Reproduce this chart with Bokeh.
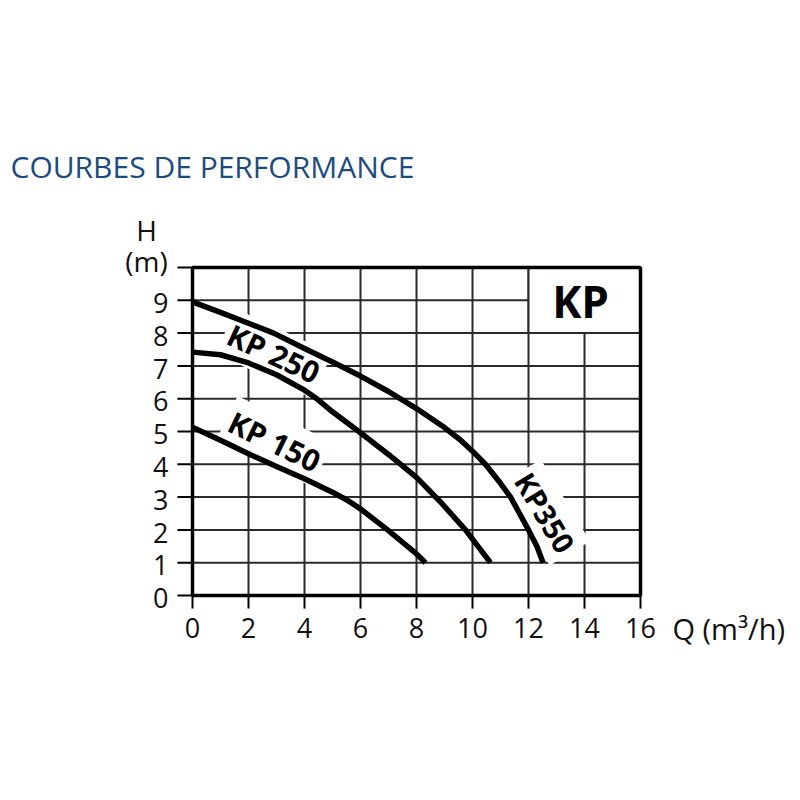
from bokeh.plotting import figure
from bokeh.models import Range1d, Label
from bokeh.core.properties import value
from bokeh.embed import file_html
from bokeh.resources import INLINE

# data (Q in m3/h, H in m)
q_150 = [0, 1, 2, 3, 4, 5, 5.5, 6, 7, 8, 8.32]
h_150 = [5.13, 4.73, 4.32, 3.93, 3.56, 3.15, 2.92, 2.64, 1.98, 1.27, 1.0]

q_250 = [0, 1, 2, 3, 4, 4.39, 5, 5.94, 7, 8, 8.86, 9.75, 10, 10.64]
h_250 = [7.42, 7.34, 7.09, 6.73, 6.26, 6.03, 5.6, 5.0, 4.3, 3.6, 2.85, 2.0, 1.72, 1.0]

q_350 = [0, 1, 2, 2.9, 4, 5, 6, 7, 8, 9, 9.57, 10, 10.46, 11, 11.36, 12, 12.3, 12.52]
h_350 = [8.95, 8.63, 8.3, 8.0, 7.53, 7.12, 6.69, 6.22, 5.7, 5.12, 4.74, 4.4, 4.0, 3.42, 3.0, 2.0, 1.5, 1.0]

x_ticks = [0, 2, 4, 6, 8, 10, 12, 14, 16]
y_ticks = [0, 1, 2, 3, 4, 5, 6, 7, 8, 9, 10]
y_tick_labels = ["0", "1", "2", "3", "4", "5", "6", "7", "8", "9"]
x_tick_labels = ["0", "2", "4", "6", "8", "10", "12", "14", "16"]

FONT = "Open Sans"
X_MIN, X_MAX = 0, 16
Y_MIN, Y_MAX = 0, 10

# frame fills the whole canvas; chart box 0..16 x 0..10 sits at px 192..640 / 595..267
p = figure(width=800, height=800, output_backend="svg", toolbar_location=None,
           x_axis_location=None, y_axis_location=None, title=None,
           x_range=Range1d(-192 / 28, 608 / 28),
           y_range=Range1d((595 - 800) / 32.8, 595 / 32.8),
           min_border=0)
p.min_border_left = p.min_border_right = p.min_border_top = p.min_border_bottom = 0
p.background_fill_color = "white"
p.border_fill_color = "white"
p.outline_line_color = None
p.xgrid.visible = False
p.ygrid.visible = False

GRID = "#2a2a2a"
# grid lines
p.segment(x0=x_ticks, x1=x_ticks, y0=[Y_MIN] * len(x_ticks), y1=[Y_MAX] * len(x_ticks),
          line_color=GRID, line_width=2, level="underlay")
p.segment(x0=[X_MIN] * len(y_ticks), x1=[X_MAX] * len(y_ticks), y0=y_ticks, y1=y_ticks,
          line_color=GRID, line_width=2, level="underlay")
# tick marks outside the box
p.segment(x0=x_ticks, x1=x_ticks, y0=[Y_MIN] * len(x_ticks), y1=[Y_MIN - 0.4] * len(x_ticks),
          line_color="black", line_width=2, level="underlay")
p.segment(x0=[X_MIN] * len(y_ticks), x1=[X_MIN - 0.54] * len(y_ticks), y0=y_ticks, y1=y_ticks,
          line_color="black", line_width=2, level="underlay")

# curve name labels (white background over the grid, under the curves)
def curve_label(txt, x, y, ang, size="30px"):
    p.add_layout(Label(x=x, y=y, text=txt, angle=ang, angle_units="deg",
                       text_font=FONT, text_font_style="bold", text_font_size=size,
                       text_align="center", text_baseline="middle", padding=4,
                       text_color="black", background_fill_color="white",
                       level="underlay"))

curve_label("KP 250", 2.9, 7.38, -25)
curve_label("KP 150", 2.93, 4.7, -26)
curve_label("KP350", 12.6, 2.53, -59, size="29px")

# white box for the "KP" title in the top right corner
p.quad(left=[12], right=[X_MAX], bottom=[8], top=[Y_MAX], fill_color="white",
       line_color=GRID, line_width=2)

# frame of the chart box
p.quad(left=[X_MIN], right=[X_MAX], bottom=[Y_MIN], top=[Y_MAX], fill_alpha=0,
       line_color="black", line_width=3.5)

for q, h in ((q_150, h_150), (q_250, h_250), (q_350, h_350)):
    p.line(q, h, line_color="black", line_width=5.5, line_join="round")

# tick labels
p.text(x=x_ticks, y=[Y_MIN - 1.0] * len(x_ticks), text=x_tick_labels,
       text_font=value(FONT), text_font_size=value("27px"), text_color="#111111",
       text_align="center", text_baseline="middle")
p.text(x=[X_MIN - 0.86] * len(y_tick_labels), y=[t - 0.08 for t in y_ticks[:10]],
       text=y_tick_labels, text_font=value(FONT), text_font_size=value("27px"),
       text_color="#111111", text_align="right", text_baseline="middle")

p.add_layout(Label(x=13.86, y=8.99, text="KP", text_font=FONT, text_font_style="bold",
                   text_font_size="44px", text_align="center", text_baseline="middle",
                   text_color="black"))

def plain_label(txt, x, y, size, align="center", color="#111111"):
    p.add_layout(Label(x=x, y=y, text=txt, text_font=FONT, text_font_size=size,
                       text_align=align, text_baseline="middle", text_color=color))

plain_label("H", -1.64, 11.13, "28px")
plain_label("(m)", -1.64, 10.2, "28px")
plain_label("Q (m³/h)", 17.14, -1.0, "29px", align="left")
plain_label("COURBES DE PERFORMANCE", -6.5, 13.079, "30px", align="left", color="#1b4b82")

open("out.html", "w").write(file_html(p, INLINE))
